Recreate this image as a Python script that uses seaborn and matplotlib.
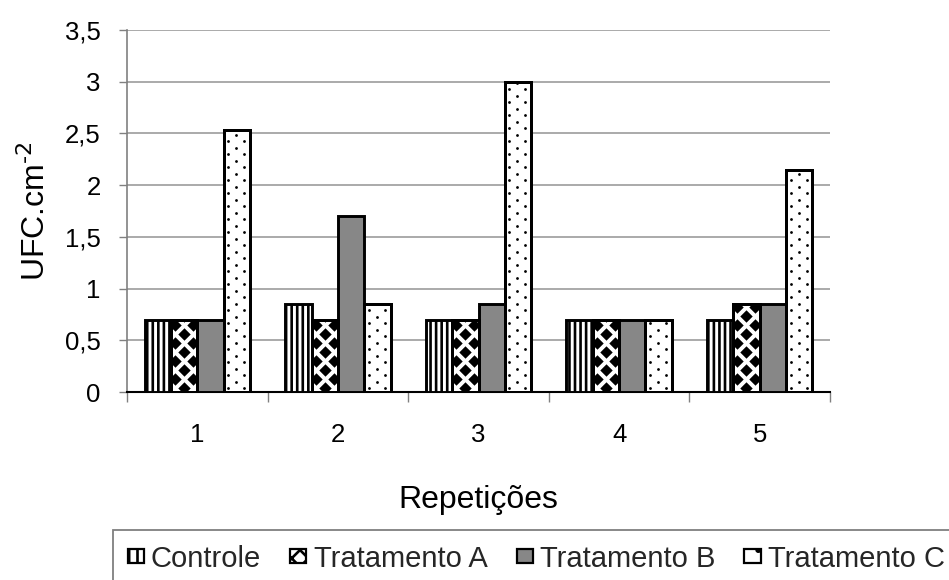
import numpy as np
import pandas as pd
import matplotlib
matplotlib.use("Agg")
import matplotlib.pyplot as plt
from matplotlib.patches import Patch, Rectangle
import seaborn as sns

# Data: CFU per cm² for each repetition and treatment
repeticoes = ["1", "2", "3", "4", "5"]
tratamentos = ["Controle", "Tratamento A", "Tratamento B", "Tratamento C"]
controle = [0.70, 0.85, 0.70, 0.70, 0.70]
trat_a = [0.70, 0.70, 0.70, 0.70, 0.85]
trat_b = [0.70, 1.70, 0.85, 0.70, 0.85]
trat_c = [2.53, 0.85, 3.00, 0.70, 2.15]
y_ticks = [0, 0.5, 1, 1.5, 2, 2.5, 3, 3.5]
y_tick_labels = ["0", "0,5", "1", "1,5", "2", "2,5", "3", "3,5"]

df = pd.DataFrame({
    "Repetição": repeticoes * 4,
    "Tratamento": np.repeat(tratamentos, len(repeticoes)),
    "UFC": controle + trat_a + trat_b + trat_c,
})

sns.set_theme(style="white")
plt.rcParams["font.family"] = ["Liberation Sans", "DejaVu Sans"]
plt.rcParams["hatch.linewidth"] = 1.9
plt.rcParams["hatch.color"] = "black"

fig = plt.figure(figsize=(9.49, 5.80), dpi=100)
ax = fig.add_axes([127 / 949, 1 - 392 / 580, 703 / 949, 362 / 580])

faces = {"Controle": "white", "Tratamento A": "white",
         "Tratamento B": "#878787", "Tratamento C": "white"}
hatches = {"Controle": "|||", "Tratamento A": "", "Tratamento B": "",
           "Tratamento C": ""}

sns.barplot(data=df, x="Repetição", y="UFC", hue="Tratamento",
            hue_order=tratamentos, order=repeticoes, ax=ax,
            width=0.75, gap=0, errorbar=None, legend=False,
            palette=["white"] * 4, saturation=1)

ax.set_xlim(-0.5, len(repeticoes) - 0.5)
ax.set_ylim(0, 3.5)

EDGE_LW = 2.1
# Fill and pattern per treatment (patches are ordered by hue, then category)
na = len(repeticoes)
bars = ax.patches[: len(tratamentos) * na]
for i, p in enumerate(bars):
    t = tratamentos[i // na]
    p.set_facecolor(faces[t])
    p.set_hatch(hatches[t])
    p.set_edgecolor("black")
    p.set_linewidth(EDGE_LW)
    p.set_zorder(3)

fig.canvas.draw()
inv = ax.transData.inverted()
px = abs(inv.transform((1, 0))[0] - inv.transform((0, 0))[0])
py = abs(inv.transform((0, 1))[1] - inv.transform((0, 0))[1])


def texture(patch, cols, row_step, row_starts, marker, size):
    """Scatter a repeating marker texture inside one bar, clipped to it."""
    x0, h = patch.get_x(), patch.get_height()
    xs, ys = [], []
    for c, off in enumerate(cols):
        yc = row_starts[c % len(row_starts)] * py
        while yc < h + row_step * py:
            xs.append(x0 + off * px)
            ys.append(yc)
            yc += row_step * py
    sc = ax.scatter(xs, ys, marker=marker, s=size, color="black",
                    linewidths=0, zorder=3.5)
    sc.set_clip_path(patch)


# Tratamento A: black diamond checker
for p in bars[na:2 * na]:
    texture(p, cols=[4, 13, 22], row_step=18, row_starts=[13, 4],
            marker="D", size=40)
# Tratamento C: sparse fine dots
for p in bars[3 * na:4 * na]:
    texture(p, cols=[4.5, 12.5, 20.5], row_step=13, row_starts=[4, 10.5],
            marker="o", size=4)

# Outlines on top of the textures
for p in bars[na:2 * na] + bars[3 * na:4 * na]:
    ax.add_patch(Rectangle((p.get_x(), 0), p.get_width(), p.get_height(),
                           fill=False, edgecolor="black", linewidth=EDGE_LW,
                           zorder=4))

ax.set_yticks(y_ticks)
ax.set_yticklabels(y_tick_labels)
ax.yaxis.grid(True, color="#a4a4a4", linewidth=1.3, zorder=0)
ax.set_axisbelow(True)

ax.set_xticks(range(na))
ax.set_xticklabels(repeticoes)
ax.set_xticks(np.arange(-0.5, na, 1), minor=True)
ax.tick_params(axis="x", which="major", length=0, pad=22, labelsize=18.5,
               colors="black")
ax.tick_params(axis="x", which="minor", length=7, width=1, color="#808080",
               direction="out", bottom=True)
ax.tick_params(axis="y", length=6, width=1, color="#808080", direction="out",
               left=True, labelsize=18.5, pad=13, labelcolor="black")

for s in ["top", "right"]:
    ax.spines[s].set_visible(False)
ax.spines["left"].set_color("#808080")
ax.spines["left"].set_linewidth(1.2)
ax.spines["bottom"].set_color("black")
ax.spines["bottom"].set_linewidth(1.5)

ax.set_xlabel("Repetições", fontsize=23, labelpad=28, color="black")
ax.set_ylabel("UFC.cm$^{\\text{-2}}$", fontsize=23, labelpad=9,
              color="black")

handles = [
    Patch(facecolor="white", edgecolor="black", hatch="||", linewidth=1.6),
    Patch(facecolor="white", edgecolor="black", hatch="xx", linewidth=1.6),
    Patch(facecolor="#878787", edgecolor="black", linewidth=1.6),
    Patch(facecolor="white", edgecolor="black", hatch=".", linewidth=1.6),
]
leg = fig.legend(handles, tratamentos, loc="upper left",
                 bbox_to_anchor=(113 / 949, 1 - 530 / 580), ncol=4,
                 fontsize=21, frameon=True, fancybox=False,
                 handlelength=0.55, handleheight=0.36, handletextpad=0.25,
                 columnspacing=1.0, borderpad=0.5, edgecolor="#606060",
                 borderaxespad=0)
leg.get_frame().set_linewidth(1.3)

fig.savefig("out.png", dpi=100)
